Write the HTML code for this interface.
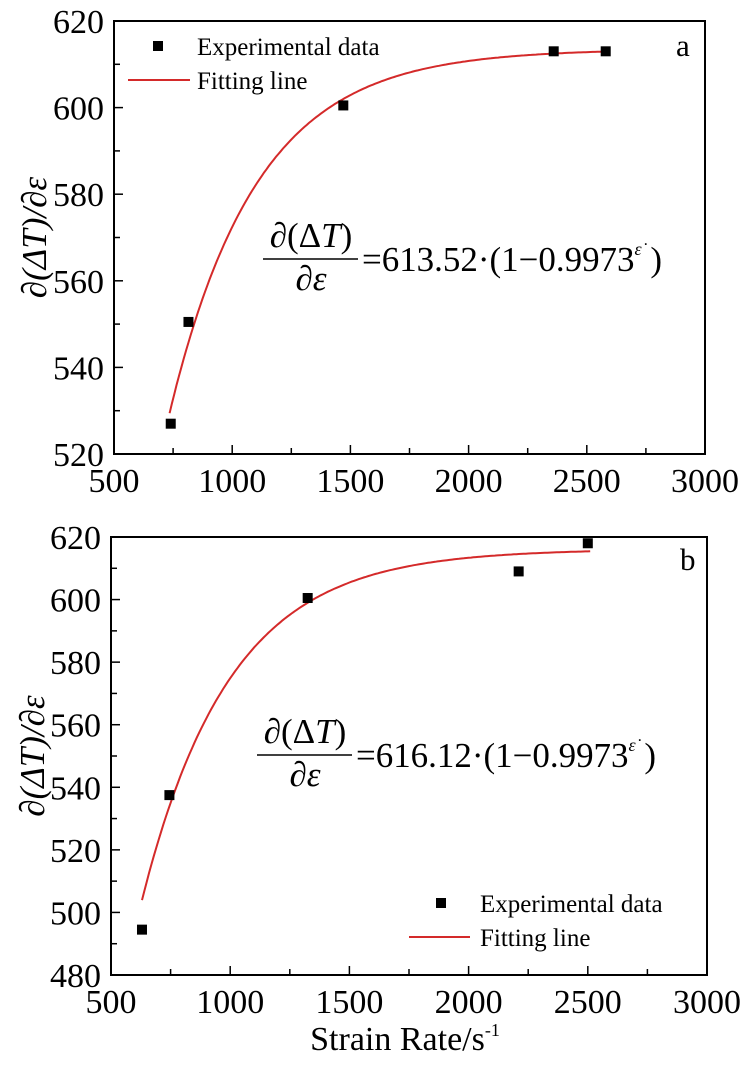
<!DOCTYPE html>
<html><head><meta charset="utf-8"><style>
html,body{margin:0;padding:0;background:#fff;}
svg{display:block;font-family:"Liberation Serif",serif;}
</style></head><body>
<svg id="s" width="747" height="1067" xmlns="http://www.w3.org/2000/svg">
</svg>
<script>
const s=document.getElementById('s');let h='';
function panel(o){
 const {L,R,T,B,ymin,ymax,ystep}=o;
 const X=v=>L+(v-500)/2500*(R-L), Y=v=>B-(v-ymin)/(ymax-ymin)*(B-T);
 h+=`<rect x="${L}" y="${T}" width="${R-L}" height="${B-T}" fill="none" stroke="#000" stroke-width="2"/>`;
 for(let v=500;v<=3000;v+=250){const x=X(v);const len=(v%500==0)?9:6;
  if(v>500&&v<3000)h+=`<line x1="${x}" y1="${B}" x2="${x}" y2="${B-len}" stroke="#000" stroke-width="1.5"/>`;
  if(v%500==0)h+=`<text x="${x}" y="${B+38}" font-size="34" text-anchor="middle">${v}</text>`;}
 for(let v=ymin;v<=ymax;v+=ystep/2){const y=Y(v);const major=((v-ymin)%ystep==0);
  if(v>ymin&&v<ymax)h+=`<line x1="${L}" y1="${y}" x2="${L+(major?9:6)}" y2="${y}" stroke="#000" stroke-width="1.5"/>`;
  if(major)h+=`<text x="${L-10}" y="${y+12}" font-size="34" text-anchor="end">${v}</text>`;}
 let d='';for(let x=o.x0;x<=o.x1;x+=10){const yv=o.A*(1-Math.pow(0.9973,x));d+=(d?'L':'M')+X(x).toFixed(1)+','+Y(yv).toFixed(1);}
 h+=`<path d="${d}" fill="none" stroke="#d42a2a" stroke-width="2"/>`;
 for(const [a,b] of o.pts)h+=`<rect x="${X(a)-5}" y="${Y(b)-5}" width="10" height="10" fill="#000"/>`;
 h+=`<text x="${(T+B)/2}" y="0" transform="translate(${o.lx},0) rotate(-90) translate(${-(T+B)},0)" font-size="35" text-anchor="middle" font-style="italic">∂(ΔT)/∂ε</text>`;
}
panel({L:114,R:705,T:21,B:454,ymin:520,ymax:620,ystep:20,x0:735,x1:2590,A:613.52,lx:46,
 pts:[[740,527],[815,550.5],[1470,600.5],[2360,613],[2580,613]]});
panel({L:111,R:707,T:537,B:975,ymin:480,ymax:620,ystep:20,x0:630,x1:2510,A:616.12,lx:44,
 pts:[[630,494.5],[745,537.5],[1325,600.5],[2210,609],[2500,618]]});
function eq(x,y,val){
 h+=`<text x="${x+48}" y="${y-12}" font-size="35" text-anchor="middle">∂(Δ<tspan font-style="italic">T</tspan>)</text>`;
 h+=`<line x1="${x}" y1="${y}" x2="${x+95}" y2="${y}" stroke="#000" stroke-width="1.5"/>`;
 h+=`<text x="${x+48}" y="${y+31}" font-size="35" text-anchor="middle">∂<tspan font-style="italic">ε</tspan></text>`;
 h+=`<text x="${x+99}" y="${y+12}" font-size="35" textLength="300" lengthAdjust="spacingAndGlyphs">=${val}·(1−0.9973<tspan font-size="18" dy="-16" font-style="italic">ε̇</tspan><tspan dy="16"> )</tspan></text>`;
}
eq(263,259,'613.52');eq(257,755,'616.12');
h+=`<rect x="153" y="41" width="10" height="10"/><text x="197" y="55" font-size="25">Experimental data</text>`;
h+=`<line x1="128" y1="80" x2="190" y2="80" stroke="#d42a2a" stroke-width="2"/><text x="197" y="89" font-size="25">Fitting line</text>`;
h+=`<text x="676" y="56" font-size="31">a</text>`;
h+=`<rect x="436" y="898" width="10" height="10"/><text x="480" y="912" font-size="25">Experimental data</text>`;
h+=`<line x1="409" y1="937" x2="470" y2="937" stroke="#d42a2a" stroke-width="2"/><text x="480" y="946" font-size="25">Fitting line</text>`;
h+=`<text x="680" y="570" font-size="31">b</text>`;
h+=`<text x="405" y="1050" font-size="34" text-anchor="middle">Strain Rate/s<tspan font-size="18" dy="-14">-1</tspan></text>`;
s.innerHTML=h;
</script>
</body></html>
